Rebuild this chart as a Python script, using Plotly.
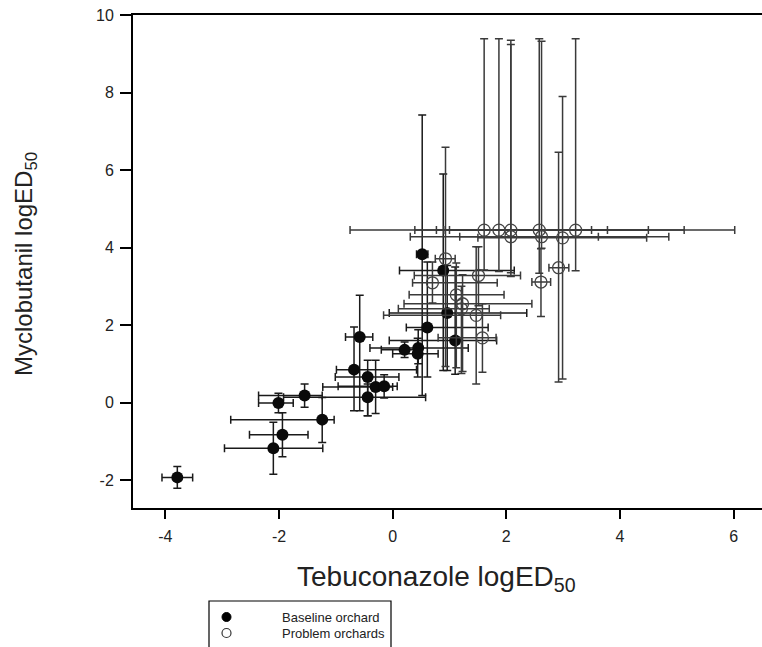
import plotly.graph_objects as go

# ---- Baseline orchard (filled) ----
base_x    = [-3.79, -2.10, -1.94, -2.01, -1.55, -1.24, -0.68, -0.58, -0.44, -0.30, -0.15, -0.44, 0.21, 0.45, 0.44, 0.52, 0.61, 0.89, 0.96, 1.10]
base_y    = [-1.93, -1.18, -0.83, -0.01, 0.18, -0.44, 0.85, 1.69, 0.66, 0.40, 0.42, 0.14, 1.36, 1.41, 1.26, 3.83, 1.94, 3.41, 2.31, 1.60]
base_x_lo = [-4.06, -2.96, -2.52, -2.36, -2.36, -2.85, -0.99, -0.83, -1.01, -1.23, -0.96, -1.92, -0.20, -0.40, 0.00, 0.42, 0.24, 0.12, -0.06, -0.06]
base_x_hi = [-3.52, -1.23, -1.49, -1.75, -1.24, -1.03, 0.42, -0.35, 0.11, 0.00, 0.08, 0.58, 0.50, 1.33, 0.80, 0.62, 1.68, 2.14, 2.36, 1.83]
base_y_lo = [-2.21, -1.85, -1.40, -0.26, -0.12, -1.03, -0.21, -0.21, -0.34, -0.28, 0.12, -0.34, 1.16, 1.00, 0.66, 0.18, 0.66, 0.83, 0.83, 0.73]
base_y_hi = [-1.65, -0.51, -0.26, 0.24, 0.48, 0.13, 1.95, 2.77, 1.09, 1.09, 0.72, 0.48, 1.56, 1.88, 1.66, 7.42, 3.63, 5.90, 3.54, 3.50]

# ---- Problem orchards (open) ----
prob_x    = [1.61, 1.87, 2.08, 2.08, 2.58, 2.62, 2.99, 3.22, 0.93, 0.70, 1.51, 2.92, 2.61, 1.12, 1.23, 1.21, 1.47, 1.58]
prob_y    = [4.45, 4.45, 4.45, 4.28, 4.45, 4.28, 4.25, 4.45, 3.71, 3.09, 3.28, 3.48, 3.11, 2.78, 2.55, 2.42, 2.25, 1.67]
prob_x_lo = [0.39, 0.90, 1.00, 1.18, 0.77, 0.31, 1.50, -0.75, 0.75, 0.35, 0.38, 2.75, 2.45, 0.29, 0.20, 0.10, -0.16, 0.80]
prob_x_hi = [4.50, 3.50, 3.78, 3.62, 5.13, 4.86, 4.47, 6.02, 1.10, 1.84, 2.25, 3.10, 2.78, 1.96, 2.45, 1.70, 1.90, 1.82]
prob_y_lo = [3.42, 3.38, 3.25, 3.35, 3.34, 3.98, 0.61, 3.40, 0.93, 2.57, 2.50, 0.53, 2.22, 0.90, 0.80, 0.75, 0.48, 0.78]
prob_y_hi = [9.39, 9.39, 9.35, 9.24, 9.39, 9.32, 7.90, 9.39, 6.59, 3.63, 4.02, 6.46, 3.97, 3.60, 3.30, 3.00, 4.02, 2.55]

x_ticks = [-4, -2, 0, 2, 4, 6]
x_tick_text = ["-4", "-2", "0", "2", "4", "6"]
y_ticks = [-2, 0, 2, 4, 6, 8, 10]
y_tick_text = ["-2", "0", "2", "4", "6", "8", "10"]
legend_labels = ["Baseline orchard", "Problem orchards"]

FONT = "Liberation Sans, Arial, sans-serif"

# plot-area geometry (pixels) used to place paper-referenced legend/titles
L, R, T, B = 133, 762, 15, 508
W, H = R - L, B - T


def px(xp):
    return (xp - L) / W


def py(yp):
    return (B - yp) / H


def plus(hi, c):
    return [h - v for h, v in zip(hi, c)]


def minus(lo, c):
    return [v - l for l, v in zip(lo, c)]


fig = go.Figure()
fig.add_trace(go.Scatter(
    x=base_x, y=base_y, mode="markers", name=legend_labels[0], showlegend=False,
    marker=dict(symbol="circle", size=12, color="#0a0a0a"),
    error_x=dict(type="data", symmetric=False, array=plus(base_x_hi, base_x), arrayminus=minus(base_x_lo, base_x),
                 color="#1a1a1a", thickness=1.5, width=4),
    error_y=dict(type="data", symmetric=False, array=plus(base_y_hi, base_y), arrayminus=minus(base_y_lo, base_y),
                 color="#1a1a1a", thickness=1.5, width=4),
))
fig.add_trace(go.Scatter(
    x=prob_x, y=prob_y, mode="markers", name=legend_labels[1], showlegend=False,
    marker=dict(symbol="circle-open", size=12, color="#444444", line=dict(width=1.3)),
    error_x=dict(type="data", symmetric=False, array=plus(prob_x_hi, prob_x), arrayminus=minus(prob_x_lo, prob_x),
                 color="#3a3a3a", thickness=1.5, width=4),
    error_y=dict(type="data", symmetric=False, array=plus(prob_y_hi, prob_y), arrayminus=minus(prob_y_lo, prob_y),
                 color="#3a3a3a", thickness=1.5, width=4),
))

# manual legend box (rows are closer together than plotly's legend allows)
shapes = [
    dict(type="rect", xref="paper", yref="paper", x0=px(209), x1=px(391), y0=py(601), y1=py(652),
         line=dict(color="black", width=1.2), fillcolor="white", layer="above"),
    dict(type="circle", xref="paper", yref="paper", x0=px(222), x1=px(231), y0=py(612.5), y1=py(621.5),
         line=dict(color="black", width=1), fillcolor="black", layer="above"),
    dict(type="circle", xref="paper", yref="paper", x0=px(222), x1=px(231), y0=py(628.5), y1=py(637.5),
         line=dict(color="#333", width=1.2), fillcolor="white", layer="above"),
]

annotations = [
    dict(text="Tebuconazole logED<sub>50</sub>", xref="paper", yref="paper",
         x=px(436), y=py(578), xanchor="center", yanchor="middle",
         showarrow=False, font=dict(size=28, family=FONT, color="#222")),
    dict(text="Myclobutanil logED<sub>50</sub>", xref="paper", yref="paper",
         x=px(25), y=py(264), xanchor="center", yanchor="middle",
         textangle=-90, showarrow=False, font=dict(size=24, family=FONT, color="#222")),
    dict(text=legend_labels[0], xref="paper", yref="paper", x=px(280), y=py(617),
         xanchor="left", yanchor="middle", showarrow=False,
         font=dict(size=13, family=FONT, color="#222")),
    dict(text=legend_labels[1], xref="paper", yref="paper", x=px(280), y=py(633),
         xanchor="left", yanchor="middle", showarrow=False,
         font=dict(size=13, family=FONT, color="#222")),
]

fig.update_layout(
    width=762, height=647,
    margin=dict(l=L, r=762 - R, t=T, b=647 - B),
    paper_bgcolor="white", plot_bgcolor="white",
    font=dict(family=FONT, color="#222"),
    showlegend=False,
    xaxis=dict(range=[-4.57, 6.5], tickvals=x_ticks, ticktext=x_tick_text, ticks="outside", ticklen=9, tickwidth=2,
               tickcolor="black", showline=True, linewidth=2, linecolor="black", mirror=True,
               showgrid=False, zeroline=False, ticklabelstandoff=4,
               tickfont=dict(size=16, family=FONT, color="#222")),
    yaxis=dict(range=[-2.72, 10], tickvals=y_ticks, ticktext=y_tick_text, ticks="outside", ticklen=11, tickwidth=2,
               tickcolor="black", showline=True, linewidth=2, linecolor="black", mirror=False,
               showgrid=False, zeroline=False, ticklabelstandoff=3,
               tickfont=dict(size=16, family=FONT, color="#222")),
    shapes=shapes,
    annotations=annotations,
)

fig.write_html("out.html")
